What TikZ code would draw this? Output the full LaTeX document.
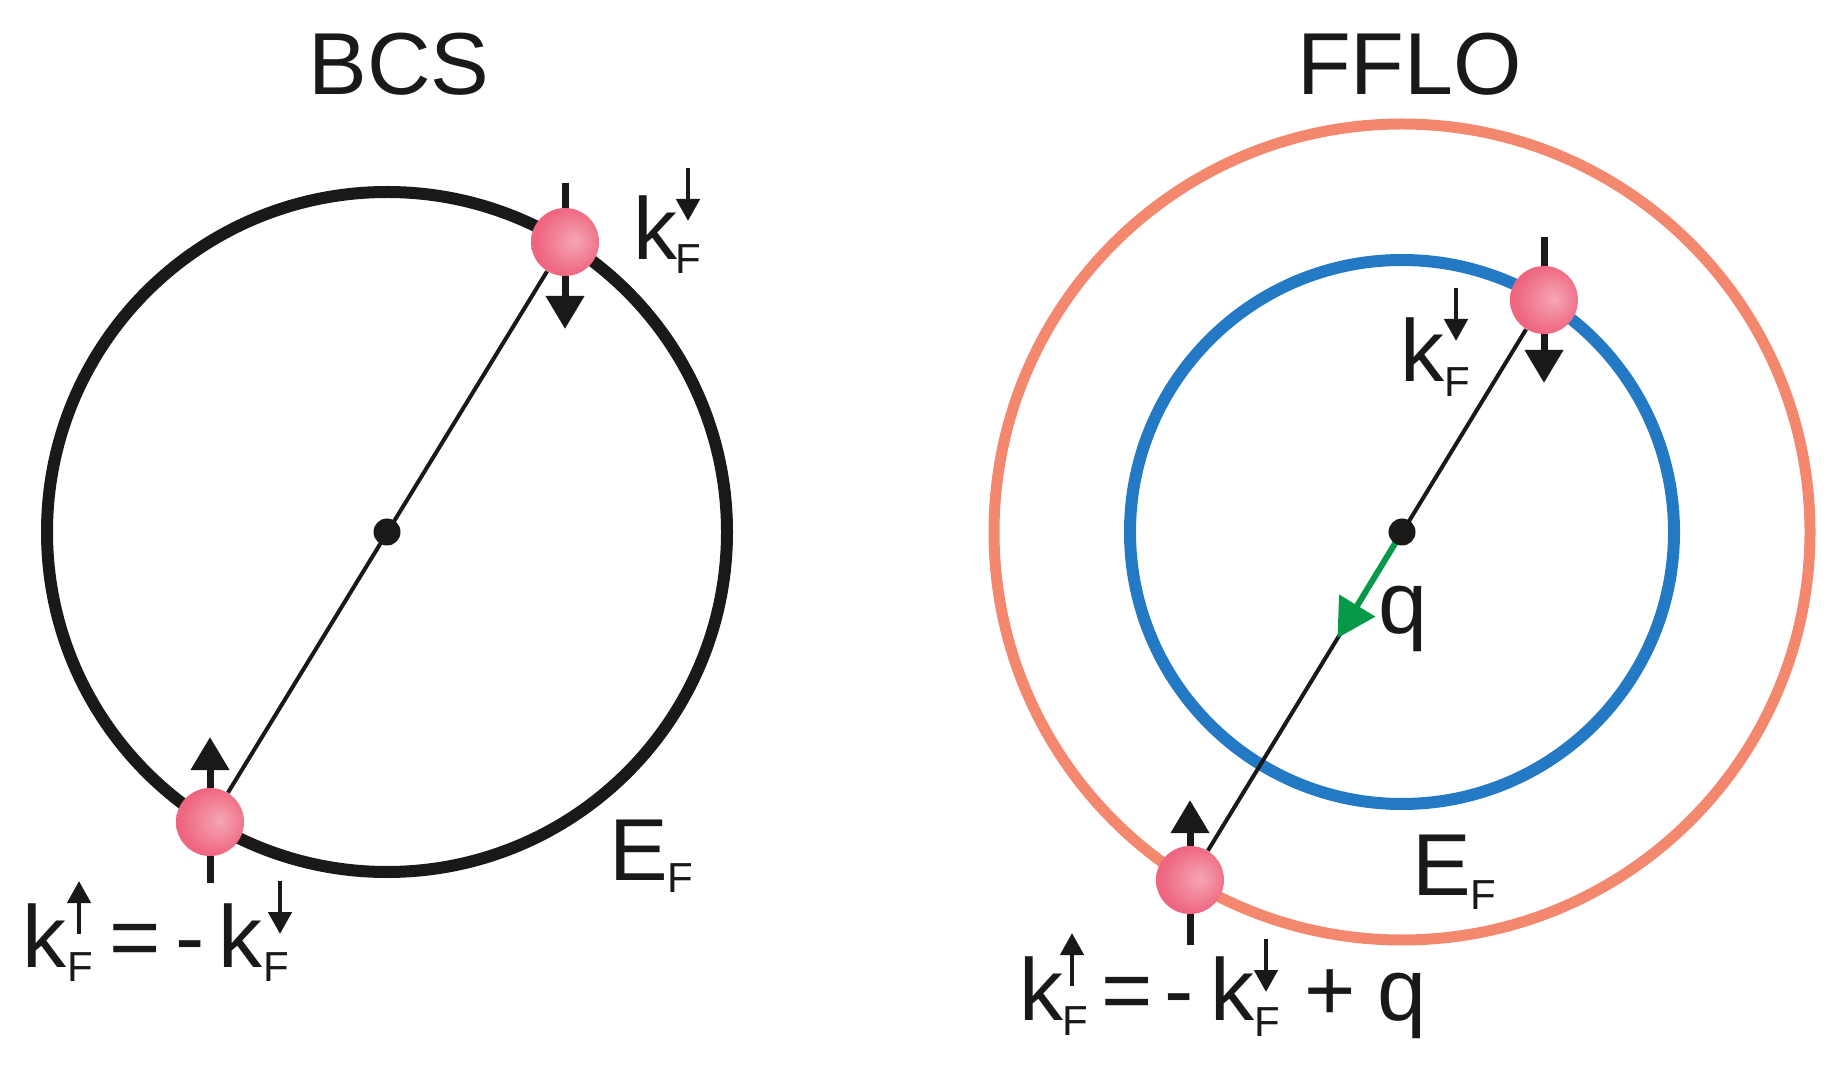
\documentclass[tikz,border=0pt]{standalone}
\usepackage{fontspec}
\setmainfont{Liberation Sans}
\usetikzlibrary{arrows.meta}
\definecolor{inkblack}{HTML}{1A1917}
\definecolor{salmon}{HTML}{F4886E}
\definecolor{fsblue}{HTML}{2479C5}
\definecolor{qgreen}{HTML}{07994A}
\definecolor{pinkhi}{HTML}{F5A6B5}
\definecolor{pinklo}{HTML}{EF6680}
\pgfdeclareradialshading{pinkball}{\pgfpoint{8bp}{1bp}}{color(0bp)=(pinkhi); color(25bp)=(pinklo); color(50bp)=(pinklo)}
\tikzset{
  ring/.style={line width=6pt},
  ball/.style={circle, minimum size=34pt, inner sep=0pt, draw=none, shading=pinkball},
  cdot/.style={circle, fill=inkblack, minimum size=13.5pt, inner sep=0pt},
  spinarrow/.style={draw=inkblack, line width=3.5pt, -{Triangle[length=16.5pt,width=18.5pt]}},
  suparrow/.style={draw=inkblack, line width=2.3pt, -{Triangle[length=11pt,width=11.5pt]}},
  diam/.style={draw=inkblack, line width=2pt},
  qarrow/.style={draw=qgreen, line width=3pt, -{Triangle[length=19pt,width=20.5pt]}},
  lbl/.style={inner sep=0pt, anchor=base, text=inkblack, font=\fontsize{44pt}{44pt}\selectfont},
  sublbl/.style={inner sep=0pt, anchor=base, text=inkblack, font=\fontsize{21pt}{21pt}\selectfont}
}
\begin{document}
\begin{tikzpicture}[x=0.5pt,y=-0.5pt]
\useasboundingbox (0,0) rectangle (1846,1068);
% titles
\node[lbl] (tbcs) at (399,95) {BCS};
\node[lbl] (tfflo) at (1409.5,95) {FFLO};
% centres
\coordinate (bC) at (387,532);
\coordinate (fC) at (1402,532);
% rings
\draw[ring, draw=inkblack] (bC) circle[radius=340];
\draw[ring, draw=salmon, line width=5.5pt] (fC) circle[radius=408];
\draw[ring, draw=fsblue] (fC) circle[radius=272];
% spin arrows (under the balls)
\coordinate (b1s) at (565,183); \coordinate (b1e) at (565,329);
\coordinate (b2s) at (210,883); \coordinate (b2e) at (210,737);
\coordinate (f1s) at (1544,237); \coordinate (f1e) at (1544,383);
\coordinate (f2s) at (1190,945); \coordinate (f2e) at (1190,800);
\draw[spinarrow] (b1s) -- (b1e);
\draw[spinarrow] (b2s) -- (b2e);
\draw[spinarrow] (f1s) -- (f1e);
\draw[spinarrow] (f2s) -- (f2e);
% balls
\node[ball] (bTop) at (565,242) {};
\node[ball] (bBot) at (210,822) {};
\node[ball] (fTop) at (1544,300) {};
\node[ball] (fBot) at (1190,880) {};
% diameters
\draw[diam] (bTop) -- (bBot);
\draw[diam] (fTop) -- (fBot);
% q arrow
\coordinate (qtip) at (1337.5,638);
\draw[qarrow] (fC) -- (qtip);
% centre dots
\node[cdot] (bDot) at (bC) {};
\node[cdot] (fDot) at (fC) {};
% ---- BCS labels
\node[lbl] (bk1) at (655,260) {k};
\node[sublbl] (bF1) at (688.5,274) {F};
\coordinate (ba1s) at (688,168); \coordinate (ba1e) at (688,221);
\draw[suparrow] (ba1s) -- (ba1e);
\node[lbl] (bE) at (638.5,880) {E};
\node[sublbl] (bEF) at (680.5,892) {F};
% BCS formula
\node[lbl] (bk2) at (44,967) {k};
\node[sublbl] (bF2) at (80,981) {F};
\coordinate (ba2s) at (79,934); \coordinate (ba2e) at (79,881);
\draw[suparrow] (ba2s) -- (ba2e);
\node[lbl] (beq) at (135.5,967) {=};
\node[lbl] (bmin) at (190.5,967) {-};
\node[lbl] (bk3) at (240,967) {k};
\node[sublbl] (bF3) at (276.5,981) {F};
\coordinate (ba3s) at (280,881); \coordinate (ba3e) at (280,934);
\draw[suparrow] (ba3s) -- (ba3e);
% ---- FFLO labels
\node[lbl] (fk1) at (1422,382) {k};
\node[sublbl] (fF1) at (1457,397) {F};
\coordinate (fa1s) at (1456,288); \coordinate (fa1e) at (1456,341);
\draw[suparrow] (fa1s) -- (fa1e);
\node[lbl] (fq) at (1402.5,633) {q};
\node[lbl] (fE) at (1442,895) {E};
\node[sublbl] (fEF) at (1483.5,909) {F};
% FFLO formula
\node[lbl] (fk2) at (1041,1020) {k};
\node[sublbl] (fF2) at (1075,1035) {F};
\coordinate (fa2s) at (1072,986); \coordinate (fa2e) at (1072,933);
\draw[suparrow] (fa2s) -- (fa2e);
\node[lbl] (feq) at (1127.5,1020) {=};
\node[lbl] (fmin) at (1179,1020) {-};
\node[lbl] (fk3) at (1232.5,1020) {k};
\node[sublbl] (fF3) at (1267,1036) {F};
\coordinate (fa3s) at (1266,939); \coordinate (fa3e) at (1266,992);
\draw[suparrow] (fa3s) -- (fa3e);
\node[lbl] (fplus) at (1330,1020) {+};
\node[lbl] (fq2) at (1402,1020) {q};
\end{tikzpicture}
\end{document}
